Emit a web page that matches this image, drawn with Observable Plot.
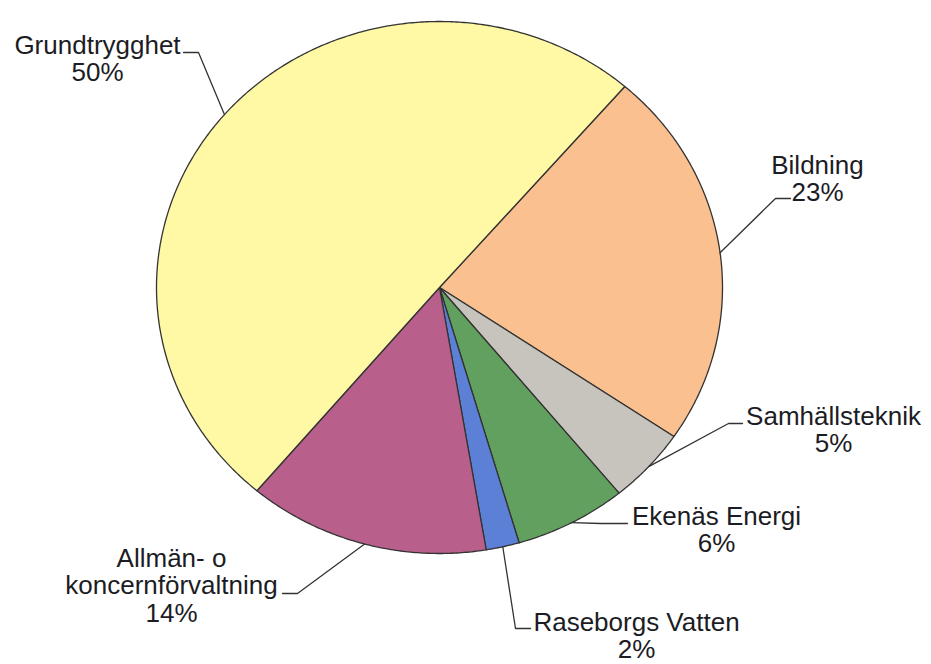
<!DOCTYPE html>
<html><head><meta charset="utf-8">
<script src="https://cdn.jsdelivr.net/npm/d3@7"></script>
<script src="https://cdn.jsdelivr.net/npm/@observablehq/plot@0.6"></script>
<style>body{margin:0;background:#fff}</style>
</head><body><div id="chart"></div>
<script>
// ---- data ----
const categories = ["Bildning", "Samhällsteknik", "Ekenäs Energi", "Raseborgs Vatten", "Allmän- o\nkoncernförvaltning", "Grundtrygghet"];
const shares = [23.1, 4.6, 6.4, 1.9, 13.8, 50.2];
const colors = ["#FAC08F", "#C6C4BC", "#62A05F", "#5B80D6", "#B8608B", "#FFF9A6"];

// ---- layout (pixels) ----
const W = 931, H = 664, CX = 439, CY = 287, RX = 283, RY = 266, START_DEG = 40.9;
const FONT = 26;
const labelLayout = [
  {tx: 817, base: 172, elbow: [775, 198], end: [790, 198]},
  {tx: 833, base: 423, elbow: [728, 423], end: [742, 423]},
  {tx: 716, base: 523, elbow: [600, 523], end: [627, 523]},
  {tx: 636, base: 629, elbow: [515, 628], end: [530, 628]},
  {tx: 171, base: 565, elbow: [297, 593], end: [282, 593]},
  {tx: 97,  base: 52,  elbow: [198, 52],  end: [183, 52]}
];

const ux = px => (px - CX) / RX;
const uy = py => (CY - py) / RY;

const start = START_DEG * Math.PI / 180;
const arcs = d3.pie().sort(null).startAngle(start).endAngle(start + 2 * Math.PI)(shares);

const slicePts = [];
arcs.forEach((a, i) => {
  const name = categories[i];
  slicePts.push({name, x: 0, y: 0});
  const n = Math.max(4, Math.ceil((a.endAngle - a.startAngle) / (Math.PI / 360)));
  for (let k = 0; k <= n; k++) {
    const t = a.startAngle + (a.endAngle - a.startAngle) * k / n;
    slicePts.push({name, x: Math.sin(t), y: Math.cos(t)});
  }
  slicePts.push({name, x: 0, y: 0});
});

const leaderPts = [];
const labels = [];
arcs.forEach((a, i) => {
  const name = categories[i];
  const L = labelLayout[i];
  const mid = (a.startAngle + a.endAngle) / 2;
  leaderPts.push({name, x: Math.sin(mid), y: Math.cos(mid)});
  leaderPts.push({name, x: ux(L.elbow[0]), y: uy(L.elbow[1])});
  leaderPts.push({name, x: ux(L.end[0]), y: uy(L.end[1])});
  labels.push({
    text: name + "\n" + Math.round(shares[i]) + "%",
    x: ux(L.tx),
    y: uy(L.base - 0.71 * FONT)
  });
});

const chart = Plot.plot({
  width: W, height: H, margin: 0,
  x: {domain: [-1, 1], range: [CX - RX, CX + RX], axis: null},
  y: {domain: [-1, 1], range: [CY + RY, CY - RY], axis: null},
  color: {domain: categories, range: colors},
  style: {fontFamily: "'Liberation Sans', Arial, sans-serif", background: "#fff", overflow: "visible"},
  marks: [
    Plot.line(slicePts, {x: "x", y: "y", z: "name", fill: "name", stroke: "#333", strokeWidth: 1.3, strokeLinejoin: "round"}),
    Plot.line(leaderPts, {x: "x", y: "y", z: "name", stroke: "#333", strokeWidth: 1.3}),
    Plot.text(labels, {x: "x", y: "y", text: "text", fontSize: FONT, lineAnchor: "top", lineHeight: 1.06, textAnchor: "middle", fill: "#1c1c24"})
  ]
});
document.getElementById("chart").appendChild(chart);
</script>
</body></html>
